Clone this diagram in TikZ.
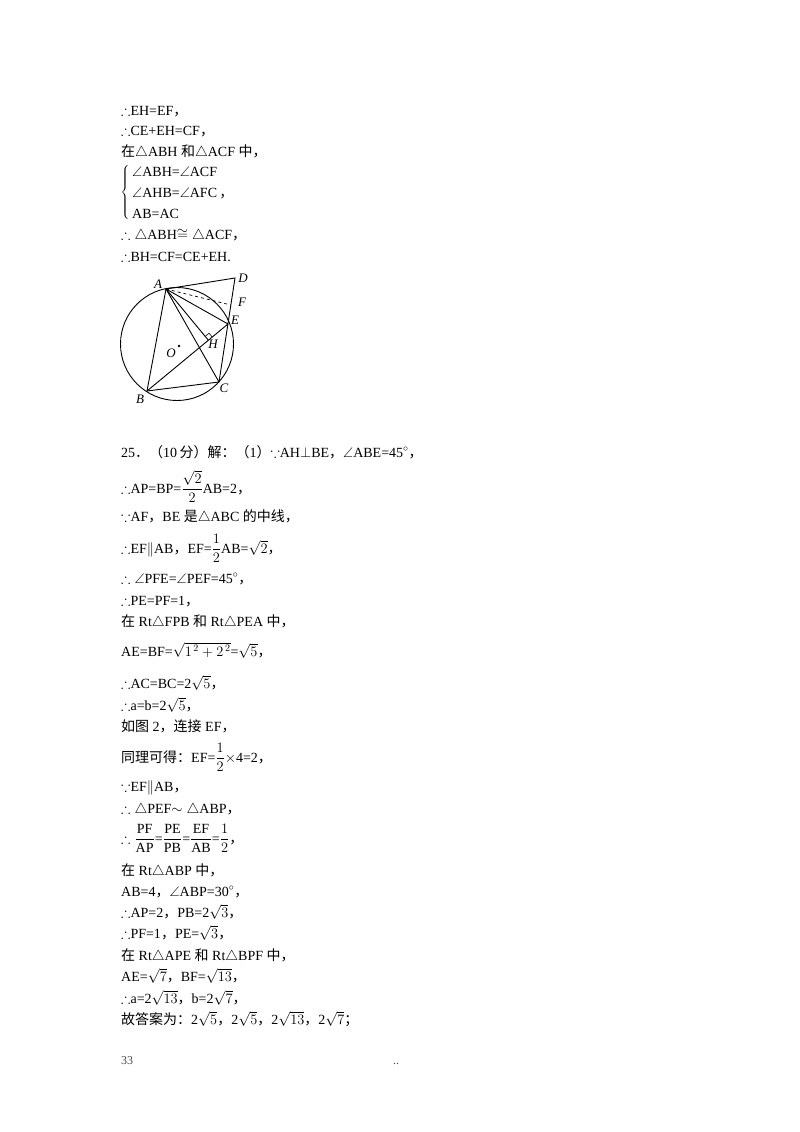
\documentclass[tikz,border=0pt]{standalone}
\usepackage{amsmath,amssymb}
\usepackage{fontspec}
\setmainfont{Liberation Serif}
\newfontfamily\cjk{Noto Sans CJK SC}
\usetikzlibrary{calc}
\newcommand{\zh}[1]{{\cjk #1}}
\begin{document}
\begin{tikzpicture}[x=1pt,y=-1pt,
  ln/.style={anchor=base west,inner sep=0pt,font=\fontsize{14}{16}\selectfont},
  pt/.style={font=\fontsize{13}{14}\selectfont\itshape,inner sep=0pt}]
\useasboundingbox (0,0) rectangle (800,1132);
\fill[white] (0,0) rectangle (800,1132);
% text lines
\node[ln] (l1) at (121,115) {$\therefore$EH=EF\zh{，}};
\node[ln] (l2) at (121,135) {$\therefore$CE+EH=CF\zh{，}};
\node[ln] (l3) at (121,156) {\zh{在}$\triangle$ABH \zh{和}$\triangle$ACF \zh{中，}};
\node[ln] (l4) at (132,176) {$\angle$ABH=$\angle$ACF};
\node[ln] (l5) at (132,197) {$\angle$AHB=$\angle$AFC\,\zh{，}};
\node[ln] (l6) at (132,218) {AB=AC};
\node[anchor=east,inner sep=0pt] (br) at (131,192) {$\left\{\vphantom{\rule{0pt}{30pt}}\right.$};
\node[ln] (l7) at (121,239) {$\therefore\triangle$ABH$\cong\triangle$ACF\zh{，}};
\node[ln] (l8) at (121,261) {$\therefore$BH=CF=CE+EH.};
% figure
\coordinate (O) at (177,344);
\coordinate (A) at (166,289);
\coordinate (B) at (147,391);
\coordinate (C) at (219,382);
\coordinate (E) at (228,324);
\coordinate (D) at (235,278);
\coordinate (F) at (230.8,305);
\coordinate (H) at ($(B)!(A)!(E)$);
\coordinate (H1) at ($(H)!5pt!(A)$);
\coordinate (H2) at ($(H)!5pt!(E)$);
\draw[line width=0.9pt] (O) circle (56.5);
\draw[line width=0.9pt] (A) -- (D) -- (C) -- (B) -- cycle;
\draw[line width=0.9pt] (A) -- (C);
\draw[line width=0.9pt] (A) -- (E);
\draw[line width=0.9pt] (A) -- (H);
\draw[line width=0.9pt] (B) -- (E);
\draw[line width=0.7pt,dashed] (A) -- (F);
\draw[line width=0.6pt] (H1) -- ($(H1)+(H2)-(H)$) -- (H2);
\fill (179,346) circle (1.3);
\node[pt] (nA) at (158,284) {A};
\node[pt] (nD) at (243,278) {D};
\node[pt] (nF) at (242,302) {F};
\node[pt] (nE) at (235,320) {E};
\node[pt] (nH) at (213,344) {H};
\node[pt] (nO) at (171,353) {O};
\node[pt] (nC) at (224,388) {C};
\node[pt] (nB) at (140,399) {B};
% section 25
\node[ln] (m1) at (121,457) {25\zh{．（}10\,\zh{分）解：（}1\zh{）}$\because$AH$\perp$BE\zh{，}$\angle$ABE=45$^\circ$\zh{，}};
\node[ln] (m2) at (121,493) {$\therefore$AP=BP=$\dfrac{\sqrt{2}}{2}$AB=2\zh{，}};
\node[ln] (m3) at (121,521) {$\because$AF\zh{，}BE \zh{是}$\triangle$ABC \zh{的中线，}};
\node[ln] (m4) at (121,553) {$\therefore$EF$\parallel$AB\zh{，}EF=$\dfrac{1}{2}$AB=$\sqrt{2}$\zh{，}};
\node[ln] (m5) at (121,583) {$\therefore\angle$PFE=$\angle$PEF=45$^\circ$\zh{，}};
\node[ln] (m6) at (121,605) {$\therefore$PE=PF=1\zh{，}};
\node[ln] (m7) at (121,626) {\zh{在} Rt$\triangle$FPB \zh{和} Rt$\triangle$PEA \zh{中，}};
\node[ln] (m8) at (121,656) {AE=BF=$\sqrt{1^{\,2}+2^{\,2}}$=$\sqrt{5}$\zh{，}};
\node[ln] (m9) at (121,688) {$\therefore$AC=BC=2$\sqrt{5}$\zh{，}};
\node[ln] (m10) at (121,710) {$\therefore$a=b=2$\sqrt{5}$\zh{，}};
\node[ln] (m11) at (121,731) {\zh{如图} 2\zh{，连接} EF\zh{，}};
\node[ln] (m12) at (121,762) {\zh{同理可得：}EF=$\dfrac{1}{2}$$\times$4=2\zh{，}};
\node[ln] (m13) at (121,791) {$\because$EF$\parallel$AB\zh{，}};
\node[ln] (m14) at (121,813) {$\therefore\triangle$PEF$\sim\triangle$ABP\zh{，}};
\node[ln] (m15) at (121,843) {$\therefore\dfrac{\text{PF}}{\text{AP}}$=$\dfrac{\text{PE}}{\text{PB}}$=$\dfrac{\text{EF}}{\text{AB}}$=$\dfrac{1}{2}$\zh{，}};
\node[ln] (m16) at (121,875) {\zh{在} Rt$\triangle$ABP \zh{中，}};
\node[ln] (m17) at (121,896) {AB=4\zh{，}$\angle$ABP=30$^\circ$\zh{，}};
\node[ln] (m18) at (121,917) {$\therefore$AP=2\zh{，}PB=2$\sqrt{3}$\zh{，}};
\node[ln] (m19) at (121,938) {$\therefore$PF=1\zh{，}PE=$\sqrt{3}$\zh{，}};
\node[ln] (m20) at (121,960) {\zh{在} Rt$\triangle$APE \zh{和} Rt$\triangle$BPF \zh{中，}};
\node[ln] (m21) at (121,981) {AE=$\sqrt{7}$\zh{，}BF=$\sqrt{13}$\zh{，}};
\node[ln] (m22) at (121,1003) {$\therefore$a=2$\sqrt{13}$\zh{，}b=2$\sqrt{7}$\zh{，}};
\node[ln] (m23) at (121,1024) {\zh{故答案为：}2$\sqrt{5}$\zh{，}2$\sqrt{5}$\zh{，}2$\sqrt{13}$\zh{，}2$\sqrt{7}$\zh{；}};
\node[ln,font=\fontsize{12}{14}\selectfont,text=black!70] (pg) at (121,1064) {33};
\node[ln,font=\fontsize{12}{14}\selectfont,text=black!70] (dd) at (393,1064) {..};
\end{tikzpicture}
\end{document}
